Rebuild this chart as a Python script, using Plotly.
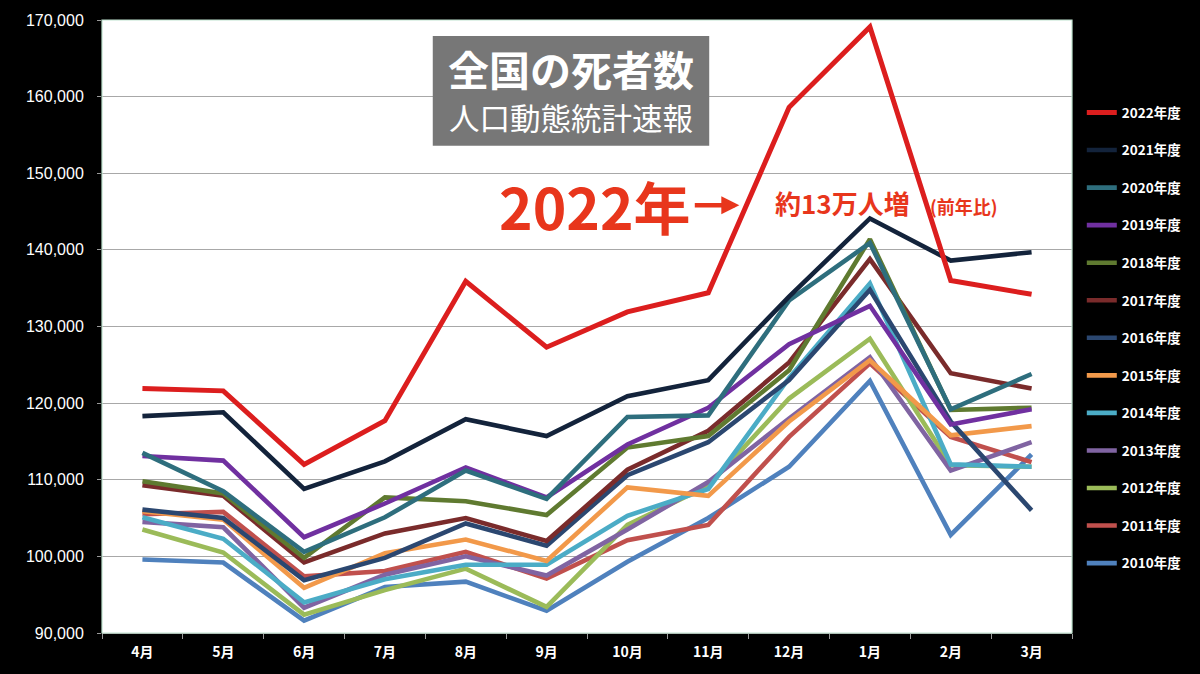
import plotly.graph_objects as go

months = ["4月", "5月", "6月", "7月", "8月", "9月", "10月", "11月", "12月", "1月", "2月", "3月"]

# deaths per month, by fiscal year
fy2022 = [121900, 121600, 112000, 117700, 135900, 127300, 131900, 134400, 158600, 169100, 136000, 134200]
fy2021 = [118300, 118800, 108800, 112400, 117900, 115700, 120900, 123000, 133900, 144100, 138600, 139700]
fy2020 = [113500, 108500, 100600, 105100, 111200, 107500, 118200, 118400, 133400, 140900, 119200, 123800]
fy2019 = [113100, 112500, 102500, 106900, 111600, 107700, 114600, 119400, 127700, 132700, 117200, 119200]
fy2018 = [109800, 108200, 99800, 107700, 107200, 105400, 114200, 115700, 124300, 141400, 119100, 119400]
fy2017 = [109300, 107900, 99200, 103000, 105000, 102000, 111300, 116400, 125300, 138800, 123900, 121900]
fy2016 = [106100, 105000, 96900, 99800, 104300, 101400, 110600, 114900, 123000, 134800, 117600, 106000]
fy2015 = [105900, 104800, 95900, 100400, 102200, 99400, 109000, 107900, 117600, 125600, 115800, 117000]
fy2014 = [105100, 102300, 94000, 97000, 98900, 98900, 105300, 108800, 123300, 135600, 112000, 111700]
fy2013 = [104500, 103800, 93300, 97600, 100000, 97500, 103500, 109700, 118000, 126000, 111200, 114900]
fy2012 = [103500, 100500, 92400, 95600, 98400, 93400, 104100, 109200, 120600, 128400, 111900, 111700]
fy2011 = [105500, 105800, 97400, 98100, 100600, 97100, 102100, 104100, 115600, 125200, 115600, 112300]
fy2010 = [99600, 99200, 91600, 96000, 96700, 92900, 99300, 105000, 111700, 122900, 102800, 113300]

series = [
    ("2022年度", fy2022, "#dc1e1e"),
    ("2021年度", fy2021, "#13233b"),
    ("2020年度", fy2020, "#2e6e7d"),
    ("2019年度", fy2019, "#7030a0"),
    ("2018年度", fy2018, "#5f7a30"),
    ("2017年度", fy2017, "#7a2b2b"),
    ("2016年度", fy2016, "#2b4770"),
    ("2015年度", fy2015, "#f2994a"),
    ("2014年度", fy2014, "#4bacc6"),
    ("2013年度", fy2013, "#8064a2"),
    ("2012年度", fy2012, "#9bbb59"),
    ("2011年度", fy2011, "#c0504d"),
    ("2010年度", fy2010, "#4f81bd"),
]

fig = go.Figure()
# oldest first so 2022 ends up on top; legendrank keeps 2022 first in the legend
for rank, (name, vals, col) in reversed(list(enumerate(series))):
    fig.add_trace(go.Scatter(
        x=months, y=vals, name=name, mode="lines", legendgroup=name,
        legendrank=rank + 1,
        line=dict(color=col, width=5 if rank == 0 else 4.6),
    ))

jp = "Noto Sans CJK JP"
red_txt = "#e8361c"

fig.update_layout(
    width=1200, height=674,
    paper_bgcolor="black", plot_bgcolor="white",
    margin=dict(l=102, r=128, t=20, b=41),
    showlegend=True,
    legend=dict(
        x=1.0101, xanchor="left", y=0.874, yanchor="top",
        traceorder="grouped", tracegroupgap=17.0,
        font=dict(family=jp, size=13.5, color="white", weight="bold"),
        bgcolor="rgba(0,0,0,0)", itemwidth=30,
    ),
    xaxis=dict(
        type="category", range=[-0.5, 11.5], tickson="boundaries",
        ticks="outside", ticklen=5, ticklabelstandoff=6,
        tickcolor="#9a9a9a", showline=True, linecolor="#9a9a9a",
        showgrid=False,
        tickfont=dict(family=jp, size=14, color="white", weight="bold"),
    ),
    yaxis=dict(
        range=[90000, 170000], dtick=10000, tickformat=",",
        ticks="outside", ticklen=4, tickcolor="#9a9a9a", ticklabelstandoff=10,
        gridcolor="#a8a8a8", gridwidth=1.3, zeroline=False,
        tickfont=dict(family="Liberation Sans", size=16, color="white"),
    ),
)

# light frame round the plot area
fig.add_shape(type="rect", xref="paper", yref="paper", x0=0, x1=1, y0=0, y1=1,
              line=dict(color="#bfe3cf", width=1.2), layer="above")

# title box
fig.add_shape(type="rect", xref="paper", yref="paper",
              x0=0.341, x1=0.626, y0=0.795, y1=0.974,
              fillcolor="#777777", line=dict(width=0), layer="above")


def note(x, y, text, size, color="white"):
    fig.add_annotation(xref="paper", yref="paper", x=x, y=y, showarrow=False,
                       xanchor="center", yanchor="middle", text=text,
                       font=dict(family=jp, size=size, color=color))


note(0.4835, 0.921, "<b>全国の死者数</b>", 41)
note(0.4835, 0.841, "人口動態統計速報", 30.5)

# 2022 callout
note(0.508, 0.698, "<b>2022年</b>", 57, red_txt)
fig.add_annotation(xref="paper", yref="paper", x=0.657, y=0.698,
                   ax=-46, ay=0, text="", showarrow=True,
                   arrowhead=2, arrowsize=0.8, arrowwidth=4.5, arrowcolor=red_txt)
note(0.763, 0.702, "<b>約13万人増</b>", 26, red_txt)
note(0.889, 0.697, "<b>(前年比)</b>", 18, red_txt)

fig.write_html("out.html", post_script="document.body.style.margin='0';",
               config={"displayModeBar": False})
